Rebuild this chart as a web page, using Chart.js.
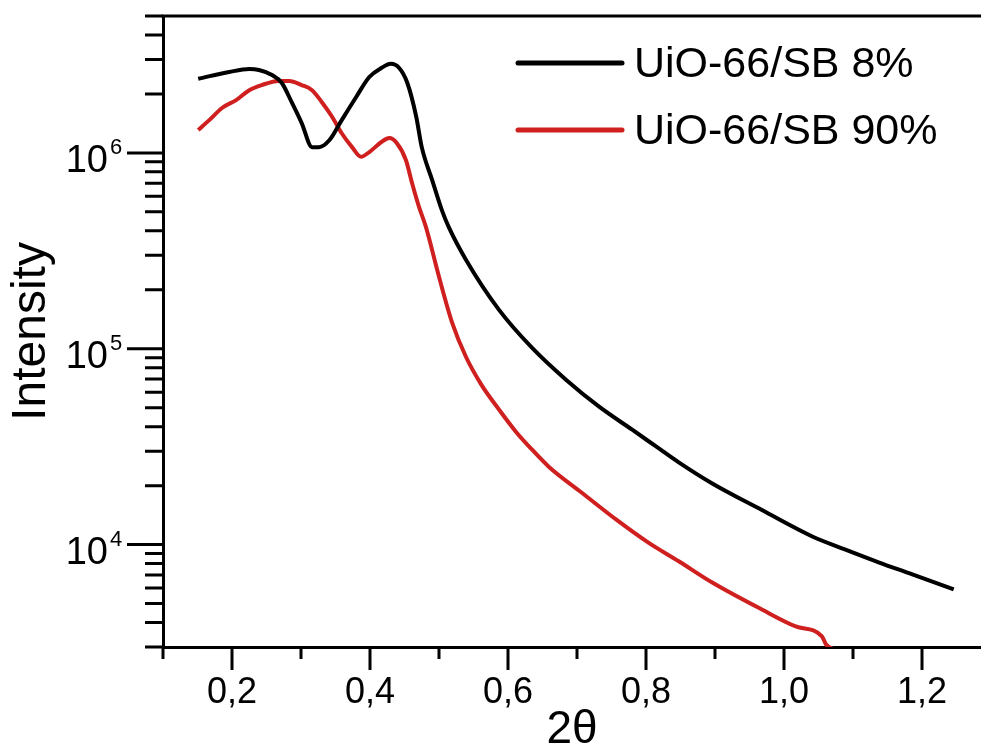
<!DOCTYPE html>
<html>
<head>
<meta charset="utf-8">
<script src="https://cdn.jsdelivr.net/npm/chart.js@4"></script>
<style>
  body { margin: 0; background: #fff; }
  canvas { display: block; }
</style>
</head>
<body>
<canvas id="chart" width="981" height="749"></canvas>
<script>
// UiO-66/SB 8 %  (black)
const sb8Angle = [0.151, 0.196, 0.225, 0.239, 0.258, 0.272, 0.287, 0.301, 0.316, 0.326, 0.341, 0.359, 0.380, 0.399, 0.417, 0.430, 0.442, 0.454, 0.467, 0.475, 0.490, 0.504, 0.514, 0.539, 0.587, 0.635, 0.684, 0.732, 0.780, 0.814, 0.848, 0.896, 0.968, 1.041, 1.090, 1.138, 1.186, 1.246];
const sb8Intensity = [2.39e6, 2.59e6, 2.68e6, 2.65e6, 2.50e6, 2.28e6, 1.80e6, 1.42e6, 1.07e6, 1.07e6, 1.16e6, 1.47e6, 1.93e6, 2.44e6, 2.72e6, 2.85e6, 2.72e6, 2.28e6, 1.53e6, 1.07e6, 7.28e5, 5.12e5, 4.19e5, 2.85e5, 1.58e5, 1.01e5, 6.95e4, 5.06e4, 3.86e4, 3.18e4, 2.62e4, 2.05e4, 1.50e4, 1.10e4, 9.4e3, 8.1e3, 7.05e3, 5.9e3];

// UiO-66/SB 90 %  (red)
const sb90Angle = [0.151, 0.167, 0.186, 0.206, 0.225, 0.243, 0.268, 0.283, 0.301, 0.316, 0.330, 0.345, 0.359, 0.374, 0.387, 0.399, 0.417, 0.428, 0.439, 0.452, 0.461, 0.471, 0.481, 0.500, 0.519, 0.539, 0.562, 0.587, 0.612, 0.635, 0.659, 0.707, 0.757, 0.804, 0.848, 0.896, 0.968, 1.017, 1.055, 1.061, 1.075];
const sb90Intensity = [1.31e6, 1.47e6, 1.70e6, 1.86e6, 2.09e6, 2.22e6, 2.33e6, 2.33e6, 2.22e6, 2.09e6, 1.82e6, 1.53e6, 1.26e6, 1.07e6, 9.55e5, 1.01e6, 1.14e6, 1.19e6, 1.12e6, 9.2e5, 7.0e5, 5.3e5, 4.19e5, 2.33e5, 1.36e5, 9.1e4, 6.5e4, 4.89e4, 3.75e4, 3.05e4, 2.5e4, 1.84e4, 1.34e4, 1.02e4, 8.2e3, 6.4e3, 4.66e3, 3.82e3, 3.4e3, 3.09e3, 2.9e3];

const seriesLabels = ['UiO-66/SB 8%', 'UiO-66/SB 90%'];

// axis ticks
const xMajorTicks = [0.2, 0.4, 0.6, 0.8, 1.0, 1.2];
const xMinorTicks = [0.1, 0.3, 0.5, 0.7, 0.9, 1.1];
const yMajorTicks = [1e4, 1e5, 1e6];
const yExponents = ['4', '5', '6'];
const yMinorTicks = [3e3, 4e3, 5e3, 6e3, 7e3, 8e3, 9e3, 2e4, 3e4, 4e4, 5e4, 6e4, 7e4, 8e4, 9e4,
  2e5, 3e5, 4e5, 5e5, 6e5, 7e5, 8e5, 9e5, 2e6, 3e6, 4e6, 5e6];

const FONT = "'Liberation Sans', Arial, sans-serif";
const RED = '#cf1f1f';

const toPoints = (xs, ys) => xs.map((x, i) => ({ x: x, y: ys[i] }));

// frame top line, tick marks, y tick labels with exponents, legend
const decorations = {
  id: 'decorations',
  afterDraw(chart) {
    const { ctx, chartArea } = chart;
    const xs = chart.scales.x;
    const ys = chart.scales.y;
    ctx.save();
    ctx.strokeStyle = '#000';
    ctx.lineWidth = 3;
    ctx.lineCap = 'butt';

    ctx.beginPath();
    ctx.moveTo(chartArea.left - 1.5, chartArea.top);
    ctx.lineTo(chartArea.right, chartArea.top);
    ctx.stroke();

    const b = chartArea.bottom;
    const l = chartArea.left;
    ctx.beginPath();
    xMajorTicks.forEach(v => { const p = xs.getPixelForValue(v); ctx.moveTo(p, b); ctx.lineTo(p, b + 23); });
    xMinorTicks.forEach(v => { const p = xs.getPixelForValue(v); ctx.moveTo(p, b); ctx.lineTo(p, b + 12); });
    yMajorTicks.forEach(v => { const p = ys.getPixelForValue(v); ctx.moveTo(l, p); ctx.lineTo(l - 36, p); });
    yMinorTicks.forEach(v => { const p = ys.getPixelForValue(v); ctx.moveTo(l, p); ctx.lineTo(l - 18, p); });
    ctx.stroke();

    ctx.fillStyle = '#000';
    ctx.textBaseline = 'alphabetic';
    yMajorTicks.forEach((v, i) => {
      const p = ys.getPixelForValue(v);
      ctx.font = '38px ' + FONT;
      ctx.textAlign = 'right';
      ctx.fillText('10', 108, p + 19);
      ctx.font = '22px ' + FONT;
      ctx.textAlign = 'left';
      ctx.fillText(yExponents[i], 110, p + 1);
    });

    // legend
    const rows = [63, 130];
    chart.data.datasets.forEach((ds, i) => {
      const y = rows[i];
      ctx.strokeStyle = ds.borderColor;
      ctx.lineWidth = 5;
      ctx.lineCap = 'round';
      ctx.beginPath();
      ctx.moveTo(518, y);
      ctx.lineTo(622, y);
      ctx.stroke();
      ctx.fillStyle = '#000';
      ctx.font = '43px ' + FONT;
      ctx.textAlign = 'left';
      ctx.textBaseline = 'middle';
      ctx.fillText(ds.label, 634, y + 2);
    });
    ctx.restore();
  }
};

new Chart(document.getElementById('chart'), {
  type: 'line',
  data: {
    datasets: [
      {
        label: seriesLabels[0],
        data: toPoints(sb8Angle, sb8Intensity),
        borderColor: '#000',
        borderWidth: 4,
        pointRadius: 0,
        cubicInterpolationMode: 'monotone',
        fill: false
      },
      {
        label: seriesLabels[1],
        data: toPoints(sb90Angle, sb90Intensity),
        borderColor: RED,
        borderWidth: 4,
        pointRadius: 0,
        cubicInterpolationMode: 'monotone',
        fill: false
      }
    ]
  },
  options: {
    responsive: false,
    animation: false,
    layout: { padding: { top: 16, right: 0, left: 0, bottom: 0 } },
    plugins: {
      legend: { display: false },
      tooltip: { enabled: false }
    },
    scales: {
      x: {
        type: 'linear',
        min: 0.1,
        max: 1.2855,
        afterFit: s => { s.height = 102; },
        afterBuildTicks: s => { s.ticks = xMajorTicks.map(v => ({ value: v })); },
        ticks: {
          callback: v => v.toFixed(1).replace('.', ','),
          font: { family: FONT, size: 36 },
          color: '#000',
          padding: 24,
          maxRotation: 0,
          autoSkip: false
        },
        grid: { drawOnChartArea: false, drawTicks: false },
        border: { color: '#000', width: 3 },
        title: {
          display: true,
          text: '2θ',
          font: { family: FONT, size: 46, lineHeight: 1 },
          color: '#000',
          padding: { top: 0, bottom: -4 }
        }
      },
      y: {
        type: 'logarithmic',
        min: 3000,
        max: 5e6,
        afterFit: s => { s.width = 163; },
        ticks: { display: false },
        grid: { drawOnChartArea: false, drawTicks: false },
        border: { color: '#000', width: 3 },
        title: {
          display: true,
          text: 'Intensity',
          font: { family: FONT, size: 48, lineHeight: 1 },
          color: '#000',
          padding: { top: 8, bottom: 0 }
        }
      }
    }
  },
  plugins: [decorations]
});
</script>
</body>
</html>
